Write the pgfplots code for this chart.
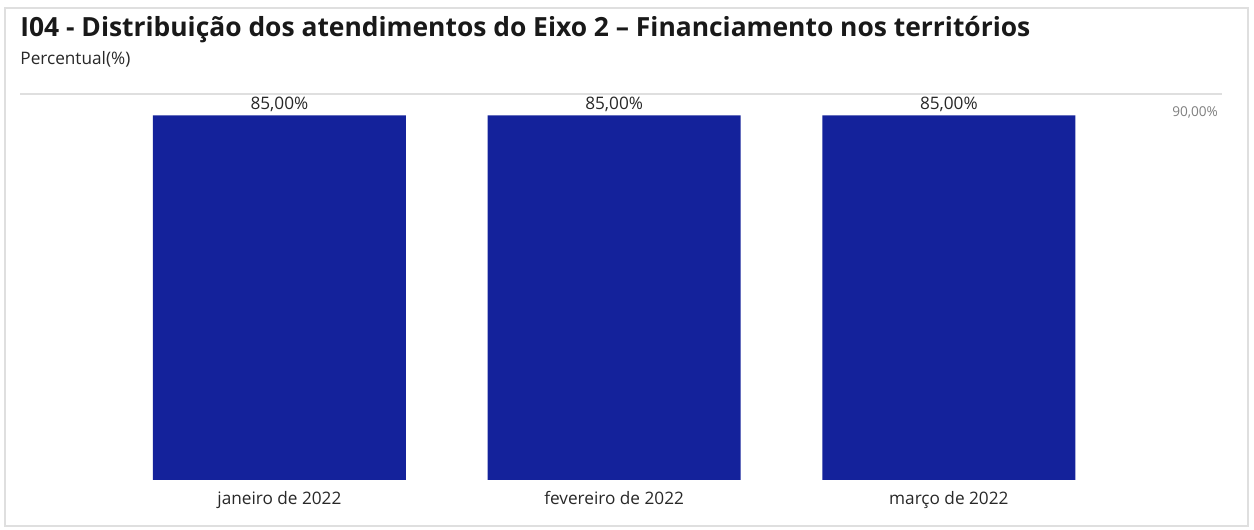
\documentclass[border=0pt]{standalone}
\usepackage{pgfplots}
\pgfplotsset{compat=1.18}
\usepackage{fontspec}
\setmainfont{Open Sans}
\definecolor{barblue}{RGB}{20,34,155}
\definecolor{txt}{RGB}{40,40,40}
\begin{document}
\begin{tikzpicture}[x=0.5pt,y=0.5pt]
\useasboundingbox (0,0) rectangle (1254,530);
\fill[white] (0,0) rectangle (1254,530);
\draw[gray!25, line width=1pt] (5,4) rectangle (1248,522);
\node[anchor=base west, inner sep=0pt, font=\bfseries\fontsize{13.2}{16}\selectfont, text=black!90] at (20,493) {I04 - Distribuição dos atendimentos do Eixo 2 – Financiamento nos territórios};
\node[anchor=base west, inner sep=0pt, font=\fontsize{8.6}{10}\selectfont, text=txt] at (20,465) {Percentual(\%)};
\begin{axis}[
  at={(10pt,25pt)}, anchor=south west,
  scale only axis, width=601pt, height=193pt,
  xmin=-0.775, xmax=2.816, ymin=0, ymax=90,
  axis line style={draw=none},
  major tick length=0pt,
  /pgf/number format/assume math mode=true,
  ybar, bar width=0.756,
  xtick=data, xticklabels={janeiro de 2022, fevereiro de 2022, março de 2022},
  xticklabel style={font=\fontsize{8.6}{10}\selectfont, text=txt, yshift=-2pt},
  ytick=\empty,
  clip=false,
  nodes near coords={\pgfmathprintnumber[fixed,fixed zerofill,precision=2,use comma,assume math mode=true]{\pgfplotspointmeta}\%},
  every node near coord/.append style={font=\fontsize{8.6}{10}\selectfont, text=txt, inner sep=1.5pt},
]
\draw[gray!25, line width=1.2pt] (axis cs:-0.775,90) -- (axis cs:2.816,90);
\addplot[fill=barblue, draw=none] coordinates {(0,85) (1,85) (2,85)};
\node[anchor=north east, inner sep=0pt, font=\fontsize{6.8}{8}\selectfont, text=gray] at (axis cs:2.805,87.2) {90,00\%};
\end{axis}
\end{tikzpicture}
\end{document}
